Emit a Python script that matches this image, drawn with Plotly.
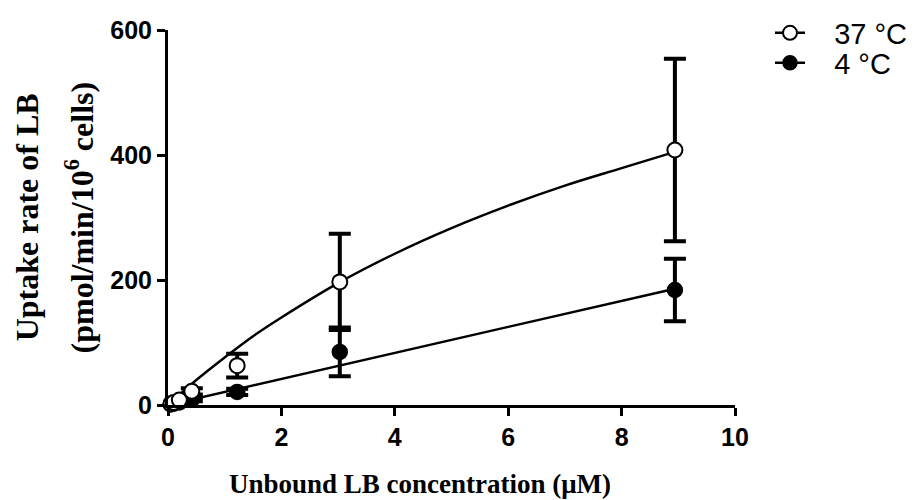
import plotly.graph_objects as go

conc = [0.05, 0.1, 0.2, 0.42, 1.22, 3.03, 8.94]
rate_37 = [2, 4, 8, 22, 63, 197, 408]
err_37 = [1, 2, 3, 5, 19, 77, 146]
rate_4 = [1, 2, 4, 9, 21, 85, 184]
err_4 = [1, 1, 2, 3, 5, 39, 50]

# Fitted curves
fit_x37 = [0, 0.5, 1, 1.5, 2, 3, 4, 5, 6, 7, 8, 8.94]
fit_y37 = [0, 40, 76, 110, 140, 195, 242, 283, 319, 351, 379, 405]
fit_x4 = [0, 3, 6, 8.94]
fit_y4 = [0, 63, 125, 186]

x_ticks = [0, 2, 4, 6, 8, 10]
y_ticks = [0, 200, 400, 600]

W, H = 912, 492  # page has an 8px body margin

fig = go.Figure()

# fitted lines
fig.add_trace(go.Scatter(x=fit_x4, y=fit_y4, mode="lines", line=dict(color="black", width=2.5),
                         showlegend=False, hoverinfo="skip", cliponaxis=False))
fig.add_trace(go.Scatter(x=fit_x37, y=fit_y37, mode="lines", line=dict(color="black", width=2.5, shape="spline"),
                         showlegend=False, hoverinfo="skip", cliponaxis=False))

# data points with error bars
fig.add_trace(go.Scatter(x=conc, y=rate_4, mode="markers", showlegend=False, cliponaxis=False,
                         marker=dict(symbol="circle", size=15, color="black", line=dict(color="black", width=1.5)),
                         error_y=dict(type="data", array=err_4, visible=True, color="black", thickness=4, width=11)))
fig.add_trace(go.Scatter(x=conc, y=rate_37, mode="markers", showlegend=False, cliponaxis=False,
                         marker=dict(symbol="circle", size=15, color="white", line=dict(color="black", width=2)),
                         error_y=dict(type="data", array=err_37, visible=True, color="black", thickness=4, width=11)))

# legend entries
fig.add_trace(go.Scatter(x=[None], y=[None], mode="lines+markers", name="   37 °C", legend="legend",
                         line=dict(color="black", width=2.5),
                         marker=dict(symbol="circle", size=14, color="white", line=dict(color="black", width=2))))
fig.add_trace(go.Scatter(x=[None], y=[None], mode="lines+markers", name="   4 °C", legend="legend2",
                         line=dict(color="black", width=2.5),
                         marker=dict(symbol="circle", size=14, color="black", line=dict(color="black", width=1.5))))

tick_font = dict(family="Liberation Sans, Arial", size=25, color="black")
axis_common = dict(showline=True, linecolor="black", linewidth=3, ticks="outside", tickwidth=3,
                   ticklen=8, tickcolor="black", showgrid=False, zeroline=False,
                   tickfont=tick_font, automargin=False)

leg_font = dict(family="Liberation Sans, Arial", size=29, color="black")
leg_common = dict(xref="container", yref="container", xanchor="left", yanchor="middle",
                  font=leg_font, bgcolor="rgba(0,0,0,0)", tracegroupgap=0)

fig.update_layout(
    width=W, height=H,
    margin=dict(l=160, r=W - 160 - 567, t=22, b=H - 22 - 375, autoexpand=False),
    paper_bgcolor="white", plot_bgcolor="white",
    xaxis=dict(range=[0, 10], tickvals=x_ticks, ticktext=["<b>%d</b>" % v for v in x_ticks], **axis_common),
    yaxis=dict(range=[0, 600], tickvals=y_ticks, ticktext=["<b>%d</b>" % v for v in y_ticks], **axis_common),
    legend=dict(x=(762) / W, y=1 - (33 - 8) / H, **leg_common),
    legend2=dict(x=(762) / W, y=1 - (63 - 8) / H, **leg_common),
    showlegend=True,
)

title_font = dict(family="Liberation Serif, Times New Roman", size=32, color="black")
fig.add_annotation(xref="paper", yref="paper", x=-0.249, y=0.5, xanchor="center", yanchor="middle",
                   text="<b>Uptake rate of LB</b>", textangle=-90, showarrow=False, font=title_font)
fig.add_annotation(xref="paper", yref="paper", x=-0.157, y=0.5, xanchor="center", yanchor="middle",
                   text="<b>(pmol/min/10<sup>6</sup> cells)</b>", textangle=-90, showarrow=False, font=title_font)
fig.add_annotation(xref="paper", yref="paper", x=0.444, y=-0.211, xanchor="center", yanchor="middle",
                   text="<b>Unbound LB concentration (μM)</b>", showarrow=False,
                   font=dict(family="Liberation Serif, Times New Roman", size=27, color="black"))

fig.write_html("out.html")
